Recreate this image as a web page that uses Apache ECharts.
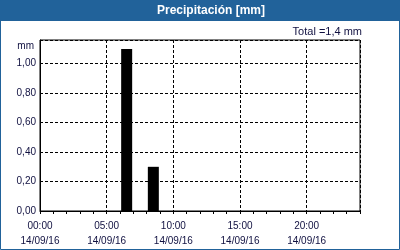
<!DOCTYPE html>
<html><head><meta charset="utf-8">
<script src="https://cdn.jsdelivr.net/npm/echarts@6/dist/echarts.min.js"></script>
<style>html,body{margin:0;padding:0;background:#fff}#c{width:400px;height:250px}</style>
</head><body><div id="c"></div>
<script>
const hours = [6.5, 8.5];
const values = [1.1, 0.3];
const dateLabel = '14/09/16';
const titleText = 'Precipitación [mm]';
const totalText = 'Total =1,4 mm';
const unitText = 'mm';

const font = 'Liberation Sans';
const txtColor = '#101040';
const blue = '#21629a';

const chart = echarts.init(document.getElementById('c'), null, {renderer: 'canvas'});
const pad = n => (n < 10 ? '0' : '') + n;
chart.setOption({
  animation: false,
  backgroundColor: '#fff',
  grid: {left: 40, right: 40, top: 40, bottom: 39, show: true, borderColor: '#000', borderWidth: 1, backgroundColor: '#fff'},
  graphic: [
    {type: 'rect', shape: {x: 0, y: 0, width: 400, height: 21}, style: {fill: blue}, silent: true},
    {type: 'rect', shape: {x: 0.5, y: 0.5, width: 399, height: 249}, style: {fill: null, stroke: blue, lineWidth: 1}, silent: true},
    {type: 'text', x: 211, y: 11, style: {text: titleText, fill: '#fff', font: 'bold 12px "' + font + '"', textAlign: 'center', textVerticalAlign: 'middle'}},
    {type: 'text', x: 362, y: 32, style: {text: totalText, fill: txtColor, font: '11px "' + font + '"', textAlign: 'right', textVerticalAlign: 'middle'}},
    {type: 'text', x: 34, y: 46, style: {text: unitText, fill: txtColor, font: '10px "' + font + '"', textAlign: 'right', textVerticalAlign: 'middle'}}
  ],
  xAxis: [{
    type: 'value', min: 0, max: 24, interval: 5,
    axisLine: {show: true, onZero: false, lineStyle: {color: '#000', width: 1}},
    axisTick: {show: false},
    axisLabel: {showMaxLabel: false, color: txtColor, fontFamily: font, fontSize: 10, margin: 8, lineHeight: 15,
      formatter: v => pad(v) + ':00\n' + dateLabel},
    splitLine: {show: true, lineStyle: {color: '#000', type: [3, 2], width: 1}}
  }, {
    type: 'value', min: 0, max: 24, interval: 1, position: 'bottom',
    axisLine: {show: false}, axisLabel: {show: false}, splitLine: {show: false},
    axisTick: {show: true, inside: false, length: 3, lineStyle: {color: '#000'}}
  }],
  yAxis: {
    type: 'value', min: 0, max: 1.161, interval: 0.2,
    axisLine: {show: true, lineStyle: {color: '#000'}},
    axisTick: {show: false},
    axisLabel: {showMaxLabel: false, color: txtColor, fontFamily: font, fontSize: 10, margin: 4,
      formatter: v => v.toFixed(2).replace('.', ',')},
    splitLine: {show: true, lineStyle: {color: '#000', type: [3, 2], width: 1}}
  },
  series: [{
    type: 'bar', xAxisIndex: 0, barWidth: 11,
    itemStyle: {color: '#000'},
    data: hours.map((h, i) => [h, values[i]])
  }]
});
</script></body></html>
